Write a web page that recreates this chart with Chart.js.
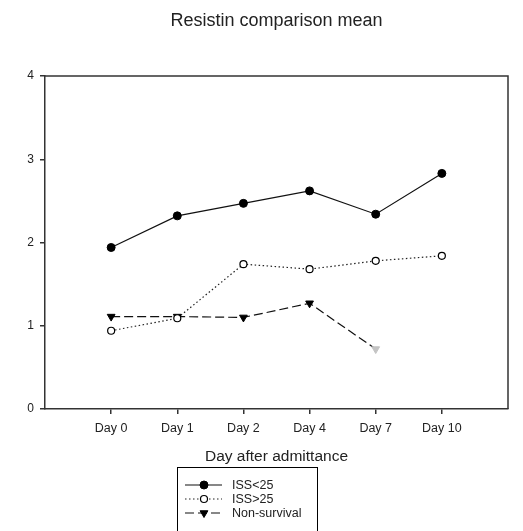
<!DOCTYPE html>
<html>
<head>
<meta charset="utf-8">
<script src="https://cdn.jsdelivr.net/npm/chart.js@4"></script>
<style>
  body { margin: 0; background: #fff; }
</style>
</head>
<body>
<canvas id="chart" width="523" height="531"></canvas>
<script>
// values
const days = ['Day 0', 'Day 1', 'Day 2', 'Day 4', 'Day 7', 'Day 10'];
const issLow = [1.94, 2.32, 2.47, 2.62, 2.34, 2.83];
const issHigh = [0.94, 1.09, 1.74, 1.68, 1.78, 1.84];
const nonSurvival = [1.11, 1.11, 1.10, 1.27, 0.72, null];
const yTicks = [0, 1, 2, 3, 4];

const FONT = '"Liberation Sans", Arial, sans-serif';
const INK = '#222';

const toPoints = (arr) => arr.map((y, i) => ({ x: i, y }));

// frame, title, axis title and the boxed legend under the chart
const extras = {
  id: 'extras',
  beforeDatasetsDraw(chart) {
    const { ctx, chartArea: a } = chart;
    ctx.save();
    ctx.strokeStyle = '#333';
    ctx.lineWidth = 1.5;
    ctx.beginPath();
    ctx.moveTo(a.left, a.top);
    ctx.lineTo(a.right, a.top);
    ctx.lineTo(a.right, a.bottom);
    ctx.stroke();
    ctx.restore();
  },
  afterDraw(chart) {
    const { ctx, chartArea: a } = chart;
    const mid = (a.left + a.right) / 2;
    ctx.save();
    ctx.fillStyle = INK;
    ctx.textAlign = 'center';
    ctx.textBaseline = 'middle';
    ctx.font = '18px ' + FONT;
    ctx.fillText('Resistin comparison mean', mid, 21);
    ctx.font = '15.5px ' + FONT;
    ctx.fillText('Day after admittance', mid, 457);

    // legend
    ctx.strokeStyle = '#000';
    ctx.lineWidth = 1;
    ctx.strokeRect(177.5, 467.5, 140, 70);
    ctx.font = '12.5px ' + FONT;
    ctx.textAlign = 'left';
    chart.data.datasets.forEach((ds, i) => {
      const y = 485 + i * 14;
      ctx.save();
      ctx.strokeStyle = ds.borderColor;
      ctx.lineWidth = ds.borderWidth;
      ctx.setLineDash(ds.borderDash || []);
      ctx.beginPath();
      ctx.moveTo(185, y);
      ctx.lineTo(222, y);
      ctx.stroke();
      ctx.restore();
      ctx.save();
      ctx.fillStyle = Array.isArray(ds.pointBackgroundColor) ? ds.pointBackgroundColor[0] : ds.pointBackgroundColor;
      ctx.strokeStyle = '#000';
      ctx.lineWidth = ds.pointBorderWidth;
      Chart.helpers.drawPoint(ctx, {
        pointStyle: ds.pointStyle,
        radius: ds.pointRadius,
        rotation: ds.pointRotation || 0,
        borderWidth: ds.pointBorderWidth
      }, 204, y);
      ctx.restore();
      ctx.fillStyle = INK;
      ctx.fillText(ds.label, 232, y + 1);
    });
    ctx.restore();
  }
};

new Chart(document.getElementById('chart'), {
  type: 'line',
  data: {
    datasets: [
      {
        label: 'ISS<25',
        data: toPoints(issLow),
        borderColor: '#111',
        borderWidth: 1.2,
        pointStyle: 'circle',
        pointRadius: 4,
        pointBackgroundColor: '#000',
        pointBorderColor: '#000',
        pointBorderWidth: 1
      },
      {
        label: 'ISS>25',
        data: toPoints(issHigh),
        borderColor: '#222',
        borderWidth: 1.2,
        borderDash: [1.5, 2.5],
        pointStyle: 'circle',
        pointRadius: 3.5,
        pointBackgroundColor: '#fff',
        pointBorderColor: '#000',
        pointBorderWidth: 1.2
      },
      {
        label: 'Non-survival',
        data: toPoints(nonSurvival),
        borderColor: '#111',
        borderWidth: 1.2,
        borderDash: [9, 4],
        pointStyle: 'triangle',
        pointRotation: 180,
        pointRadius: 4.5,
        pointBackgroundColor: ['#000', '#000', '#000', '#000', '#c4c4c4'],
        pointBorderColor: ['#000', '#000', '#000', '#000', '#c4c4c4'],
        pointBorderWidth: 1
      }
    ]
  },
  options: {
    responsive: false,
    animation: false,
    spanGaps: false,
    layout: { padding: { left: 0, right: 15, top: 76, bottom: 0 } },
    plugins: {
      legend: { display: false },
      tooltip: { enabled: false },
      title: { display: false }
    },
    scales: {
      x: {
        type: 'linear',
        min: -1,
        max: 6,
        afterBuildTicks: (scale) => { scale.ticks = days.map((_, i) => ({ value: i })); },
        afterFit: (scale) => { scale.height = 122; },
        ticks: {
          callback: (v) => days[v],
          font: { family: FONT, size: 12.5 },
          color: INK,
          padding: 7,
          maxRotation: 0,
          autoSkip: false
        },
        grid: { drawOnChartArea: false, tickLength: 5, color: '#333', lineWidth: 1.5 },
        border: { color: '#333', width: 1.5 }
      },
      y: {
        min: 0,
        max: 4,
        afterBuildTicks: (scale) => { scale.ticks = yTicks.map((v) => ({ value: v })); },
        afterFit: (scale) => { scale.width = 45; },
        ticks: {
          font: { family: FONT, size: 12 },
          color: INK,
          padding: 6
        },
        grid: { drawOnChartArea: false, tickLength: 5, color: '#333', lineWidth: 1.5 },
        border: { color: '#333', width: 1.5 }
      }
    }
  },
  plugins: [extras]
});
</script>
</body>
</html>
